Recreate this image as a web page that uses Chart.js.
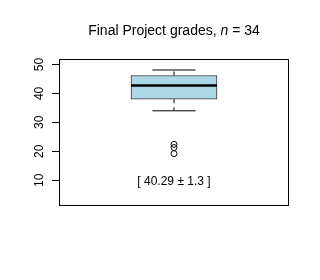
<!DOCTYPE html>
<html>
<head>
<meta charset="utf-8">
<script src="https://cdn.jsdelivr.net/npm/chart.js@4.4.0/dist/chart.umd.min.js"></script>
<style>
  html, body { margin: 0; padding: 0; background: #fff; }
</style>
</head>
<body>
<canvas id="myChart" width="320" height="280"></canvas>
<script>
const titleText = 'Final Project grades, ';
const nCount = 34;
const yTicks = [10, 20, 30, 40, 50];
// whisker low, Q1, median, Q3, whisker high
const boxStats = [34, 38, 42.7, 46.2, 48.1];
const outliers = [22.4, 21.3, 19.2];
const meanValue = 40.29;
const seValue = 1.3;
const labelAt = 10;

const ctx = document.getElementById('myChart');
const mid = 0.5, half = 0.187, capHalf = 0.094;
const [lo, q1, med, q3, hi] = boxStats;
const font = '"Liberation Sans", Arial, sans-serif';

const extras = {
  id: 'extras',
  afterDraw(chart) {
    const c = chart.ctx, a = chart.chartArea, y = chart.scales.y, x = chart.scales.x;
    c.save();
    // box around plot
    c.strokeStyle = '#000';
    c.lineWidth = 1;
    c.strokeRect(Math.round(a.left) + 0.5, Math.round(a.top) + 0.5,
      Math.round(a.right - a.left) - 1, Math.round(a.bottom - a.top) - 1);
    // tick marks
    c.beginPath();
    y.ticks.forEach(t => {
      const py = Math.round(y.getPixelForValue(t.value)) + 0.5;
      c.moveTo(a.left - 7, py);
      c.lineTo(a.left + 1, py);
    });
    c.stroke();
    // y tick labels, rotated like R
    c.fillStyle = '#000';
    c.font = '12px ' + font;
    c.textAlign = 'center';
    c.textBaseline = 'middle';
    y.ticks.forEach(t => {
      c.save();
      c.translate(40, y.getPixelForValue(t.value));
      c.rotate(-Math.PI / 2);
      c.fillText(String(t.value), 0, 0);
      c.restore();
    });
    // mean +/- se label
    c.font = '12px ' + font;
    c.fillText('[ ' + meanValue + ' \u00b1 ' + seValue + ' ]', x.getPixelForValue(mid), y.getPixelForValue(labelAt) + 1);
    // title with italic n
    const cx = x.getPixelForValue(mid);
    const p1 = titleText, p2 = 'n', p3 = ' = ' + nCount;
    c.font = '14px ' + font;
    const w1 = c.measureText(p1).width, w3 = c.measureText(p3).width;
    c.font = 'italic 14px ' + font;
    const w2 = c.measureText(p2).width;
    let tx = cx - (w1 + w2 + w3) / 2;
    c.textAlign = 'left';
    c.textBaseline = 'alphabetic';
    c.font = '14px ' + font;
    c.fillText(p1, tx, 35);
    c.font = 'italic 14px ' + font;
    c.fillText(p2, tx + w1, 35);
    c.font = '14px ' + font;
    c.fillText(p3, tx + w1 + w2, 35);
    c.restore();
  }
};

new Chart(ctx, {
  data: {
    datasets: [
      {
        type: 'line',
        data: [{ x: mid - half, y: med }, { x: mid + half, y: med }],
        borderColor: '#000',
        borderWidth: 2.5,
        pointRadius: 0,
        order: 1
      },
      {
        type: 'line',
        data: [{ x: mid, y: q3 }, { x: mid, y: hi }, { x: mid, y: null }, { x: mid, y: q1 }, { x: mid, y: lo }],
        borderColor: '#000',
        borderWidth: 1,
        borderDash: [4, 4],
        pointRadius: 0,
        spanGaps: false,
        order: 1
      },
      {
        type: 'line',
        data: [{ x: mid - capHalf, y: hi }, { x: mid + capHalf, y: hi }, { x: mid, y: null },
               { x: mid - capHalf, y: lo }, { x: mid + capHalf, y: lo }],
        borderColor: '#000',
        borderWidth: 1,
        pointRadius: 0,
        spanGaps: false,
        order: 1
      },
      {
        type: 'scatter',
        data: outliers.map(v => ({ x: mid, y: v })),
        borderColor: '#000',
        backgroundColor: 'rgba(0,0,0,0)',
        borderWidth: 1,
        pointRadius: 3,
        order: 1
      },
      {
        type: 'bar',
        data: [{ x: mid, y: [q1, q3] }],
        backgroundColor: '#ADD8E6',
        borderColor: '#333',
        borderWidth: 1,
        borderSkipped: false,
        barThickness: 86,
        order: 2
      }
    ]
  },
  options: {
    responsive: false,
    animation: false,
    devicePixelRatio: 1,
    layout: { padding: { left: 0, top: 59, right: 31, bottom: 74 } },
    plugins: { legend: { display: false }, tooltip: { enabled: false }, title: { display: false } },
    scales: {
      x: { type: 'linear', min: 0, max: 1, offset: false, display: false },
      y: {
        type: 'linear',
        min: 1.1,
        max: 51.9,
        afterBuildTicks: s => { s.ticks = yTicks.map(v => ({ value: v })); },
        afterFit: s => { s.width = 59; },
        border: { display: false },
        grid: { display: false },
        ticks: { display: false }
      }
    }
  },
  plugins: [extras]
});
</script>
</body>
</html>
